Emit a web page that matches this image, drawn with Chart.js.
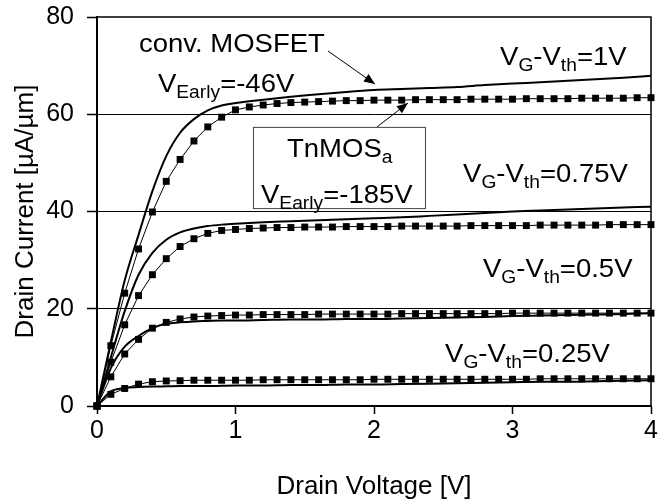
<!DOCTYPE html>
<html>
<head>
<meta charset="utf-8">
<script src="https://cdn.jsdelivr.net/npm/chart.js@4.4.1/dist/chart.umd.min.js"></script>
<style>
  html, body { margin:0; padding:0; background:#fff; }
  canvas { display:block; }
</style>
</head>
<body>
<canvas id="chart" width="658" height="504"></canvas>
<script>
// drain voltage steps of the TnMOS measurement (square markers)
const tnV = [0,0.1,0.2,0.3,0.4,0.5,0.6,0.7,0.8,0.9,1.0,1.1,1.2,1.3,1.4,1.5,1.6,1.7,1.8,1.9,
             2.0,2.1,2.2,2.3,2.4,2.5,2.6,2.7,2.8,2.9,3.0,3.1,3.2,3.3,3.4,3.5,3.6,3.7,3.8,3.9,4.0];
const tn1   = [0,12.4,23.2,32.3,39.9,46.2,50.7,54.5,57.4,59.4, 60.9,61.5,61.9,62.2,62.4,62.5,62.6,62.7,62.8,62.8,
               62.9,62.9,62.9,63.0,63.0,63.0,63.0,63.1,63.1,63.1, 63.1,63.2,63.2,63.2,63.2,63.3,63.3,63.3,63.3,63.4, 63.4];
const tn075 = [0,9.0,16.7,22.7,27.0,30.3,32.8,34.4,35.5,36.1, 36.3,36.5,36.6,36.7,36.7,36.8,36.8,36.8,36.9,36.9,
               36.9,36.9,37.0,37.0,37.0,37.0,37.0,37.1,37.1,37.1, 37.1,37.1,37.2,37.2,37.2,37.2,37.2,37.3,37.3,37.3, 37.3];
const tn05  = [0,6.0,10.7,13.7,16.0,17.2,17.9,18.3,18.5,18.6, 18.7,18.7,18.8,18.8,18.8,18.8,18.9,18.9,18.9,18.9,
               18.9,18.9,19.0,19.0,19.0,19.0,19.0,19.0,19.0,19.0, 19.1,19.1,19.1,19.1,19.1,19.1,19.1,19.1,19.1,19.1, 19.1];
const tn025 = [0,2.4,3.6,4.5,5.0,5.15,5.2,5.3,5.3,5.3, 5.3,5.3,5.4,5.4,5.4,5.4,5.4,5.4,5.4,5.4,
               5.5,5.5,5.5,5.5,5.5,5.5,5.5,5.5,5.5,5.5, 5.5,5.5,5.6,5.6,5.6,5.6,5.6,5.6,5.6,5.6, 5.6];

// conventional MOSFET (solid lines)
const convV   = [0,0.1,0.2,0.3,0.4,0.5,0.6,0.7,0.8,0.9,1.0,1.2,1.4,1.6,1.8,2.0,2.2,2.4,2.6,2.8,3.0,3.2,3.4,3.6,3.8,4.0];
const conv1   = [0,13.2,25.8,35.2,44.2,51.4,56.2,59.0,60.8,61.8,62.3,63.0,63.6,64.1,64.6,65.0,65.2,65.4,65.6,66.0,66.3,66.6,66.9,67.2,67.5,67.9];
const conv075 = [0,10.0,19.5,27.0,31.5,34.2,35.7,36.5,37.0,37.3,37.5,37.8,38.0,38.2,38.4,38.6,38.8,39.1,39.4,39.7,40.0,40.2,40.4,40.6,40.8,41.0];
const conv05  = [0,7.8,12.2,14.4,16.0,16.9,17.2,17.4,17.5,17.6,17.6,17.7,17.8,17.8,17.9,17.9,18.0,18.1,18.2,18.3,18.5,18.6,18.7,18.8,18.9,19.1];
const conv025 = [0,3.0,3.7,3.9,4.0,4.05,4.1,4.1,4.1,4.15,4.2,4.2,4.3,4.3,4.4,4.4,4.5,4.6,4.7,4.8,4.9,5.0,5.0,5.1,5.2,5.3];

const xTicks = [0,1,2,3,4];
const yTicks = [0,20,40,60,80];

const FONT = "'Liberation Sans', Arial, sans-serif";

// text annotations, anchored in data units (left edge, baseline)
const notes = [
  { x:0.303, y:72.8, parts:[["conv. MOSFET"]] },
  { x:0.44,  y:64.6, parts:[["V"],["Early",1],["=-46V"]] },
  { x:1.372, y:51.2, parts:[["TnMOS"],["a",1]] },
  { x:1.184, y:41.7, parts:[["V"],["Early",1],["=-185V"]] },
  { x:2.91,  y:70.1, parts:[["V"],["G",1],["-V"],["th",1],["=1V"]] },
  { x:2.643, y:46.1, parts:[["V"],["G",1],["-V"],["th",1],["=0.75V"]] },
  { x:2.787, y:26.5, parts:[["V"],["G",1],["-V"],["th",1],["=0.5V"]] },
  { x:2.513, y:9.05, parts:[["V"],["G",1],["-V"],["th",1],["=0.25V"]] }
];
const arrows = [
  { from:[1.668,73.0], to:[2.007,66.2] },
  { from:[2.022,57.4], to:[2.245,62.3] }
];
const noteBox = { x1:1.126, x2:2.368, y1:57.4, y2:40.7 };

function pts(xs, ys){ return xs.map((x,i)=>({x, y:ys[i]})); }

function drawRich(ctx, parts, x, y){
  ctx.save();
  ctx.translate(x, y);
  ctx.scale(1.1, 1);
  ctx.fillStyle = "#000";
  ctx.textAlign = "left";
  ctx.textBaseline = "alphabetic";
  let cx = 0;
  for (const [t, sub] of parts){
    ctx.font = (sub ? 17.5 : 25) + "px " + FONT;
    ctx.fillText(t, cx, sub ? 6 : 0);
    cx += ctx.measureText(t).width;
  }
  ctx.restore();
}

function drawArrow(ctx, x1, y1, x2, y2){
  ctx.beginPath(); ctx.moveTo(x1,y1); ctx.lineTo(x2,y2); ctx.stroke();
  const a = Math.atan2(y2-y1, x2-x1), L = 11, W = 4.5;
  ctx.beginPath();
  ctx.moveTo(x2, y2);
  ctx.lineTo(x2 - L*Math.cos(a) + W*Math.sin(a), y2 - L*Math.sin(a) - W*Math.cos(a));
  ctx.lineTo(x2 - L*Math.cos(a) - W*Math.sin(a), y2 - L*Math.sin(a) + W*Math.cos(a));
  ctx.closePath(); ctx.fill();
}

const notesPlugin = {
  id: "notes",
  beforeDatasetsDraw(chart){
    const {ctx, chartArea:a} = chart;
    ctx.save();
    ctx.strokeStyle = "#000"; ctx.lineWidth = 1.5;
    ctx.beginPath();
    ctx.moveTo(a.left, a.top); ctx.lineTo(a.right, a.top); ctx.lineTo(a.right, a.bottom);
    ctx.stroke();
    ctx.restore();
  },
  afterDraw(chart){
    const {ctx} = chart, xs = chart.scales.x, ys = chart.scales.y;
    ctx.save();
    // TnMOS box
    const bx1 = xs.getPixelForValue(noteBox.x1), bx2 = xs.getPixelForValue(noteBox.x2);
    const by1 = ys.getPixelForValue(noteBox.y1), by2 = ys.getPixelForValue(noteBox.y2);
    ctx.fillStyle = "#fff";
    ctx.fillRect(bx1, by1, bx2-bx1, by2-by1);
    ctx.strokeStyle = "#444"; ctx.lineWidth = 1;
    ctx.strokeRect(bx1+0.5, by1+0.5, bx2-bx1, by2-by1);
    // arrows
    ctx.strokeStyle = "#000"; ctx.fillStyle = "#000"; ctx.lineWidth = 1;
    for (const ar of arrows){
      drawArrow(ctx, xs.getPixelForValue(ar.from[0]), ys.getPixelForValue(ar.from[1]),
                     xs.getPixelForValue(ar.to[0]),   ys.getPixelForValue(ar.to[1]));
    }
    for (const n of notes){
      drawRich(ctx, n.parts, xs.getPixelForValue(n.x), ys.getPixelForValue(n.y));
    }
    ctx.restore();
  }
};

const tnStyle = {
  borderColor:"#000", backgroundColor:"#000", borderWidth:1,
  pointStyle:"rect", pointRadius:4.9, pointBorderWidth:0, pointBackgroundColor:"#000",
  tension:0, clip:6
};
const convStyle = {
  borderColor:"#000", borderWidth:2, pointRadius:0,
  cubicInterpolationMode:"monotone", clip:6
};

new Chart(document.getElementById("chart"), {
  type: "line",
  data: {
    datasets: [
      { label:"TnMOS 1V",    data:pts(tnV, tn1),   ...tnStyle },
      { label:"TnMOS 0.75V", data:pts(tnV, tn075), ...tnStyle },
      { label:"TnMOS 0.5V",  data:pts(tnV, tn05),  ...tnStyle },
      { label:"TnMOS 0.25V", data:pts(tnV, tn025), ...tnStyle },
      { label:"conv 1V",     data:pts(convV, conv1),   ...convStyle },
      { label:"conv 0.75V",  data:pts(convV, conv075), ...convStyle },
      { label:"conv 0.5V",   data:pts(convV, conv05),  ...convStyle },
      { label:"conv 0.25V",  data:pts(convV, conv025), ...convStyle }
    ]
  },
  options: {
    responsive:false,
    animation:false,
    devicePixelRatio:1,
    layout:{ padding:{ top:17, right:7, left:0, bottom:0 } },
    plugins:{ legend:{display:false}, tooltip:{enabled:false} },
    scales:{
      x:{
        type:"linear", min:0, max:4,
        afterBuildTicks: s => { s.ticks = xTicks.map(v=>({value:v})); },
        afterFit: s => { s.height = 98; s.paddingLeft = 0; s.paddingRight = 0; },
        ticks:{ color:"#000", font:{family:FONT, size:25}, padding:2, maxRotation:0 },
        grid:{ drawOnChartArea:false, drawTicks:true, tickLength:8, tickColor:"#000", tickWidth:1.5 },
        border:{ display:true, color:"#000", width:2 },
        title:{ display:true, text:"Drain Voltage [V]", color:"#000",
                font:{family:FONT, size:26}, padding:{top:0, bottom:2} }
      },
      y:{
        type:"linear", min:0, max:80,
        afterBuildTicks: s => { s.ticks = yTicks.map(v=>({value:v})); },
        afterFit: s => { s.width = 97; s.paddingTop = 0; s.paddingBottom = 0; },
        ticks:{ color:"#000", font:{family:FONT, size:25}, padding:13 },
        grid:{
          color: c => (c.tick && (c.tick.value === 0 || c.tick.value === 80)) ? "rgba(0,0,0,0)" : "#000",
          lineWidth:1, tickLength:10, tickColor:"#000", tickWidth:1.5
        },
        border:{ display:true, color:"#000", width:2 },
        title:{ display:true, text:"Drain Current [µA/µm]", color:"#000",
                font:{family:FONT, size:26}, padding:{top:10, bottom:0} }
      }
    }
  },
  plugins:[notesPlugin]
});
</script>
</body>
</html>
